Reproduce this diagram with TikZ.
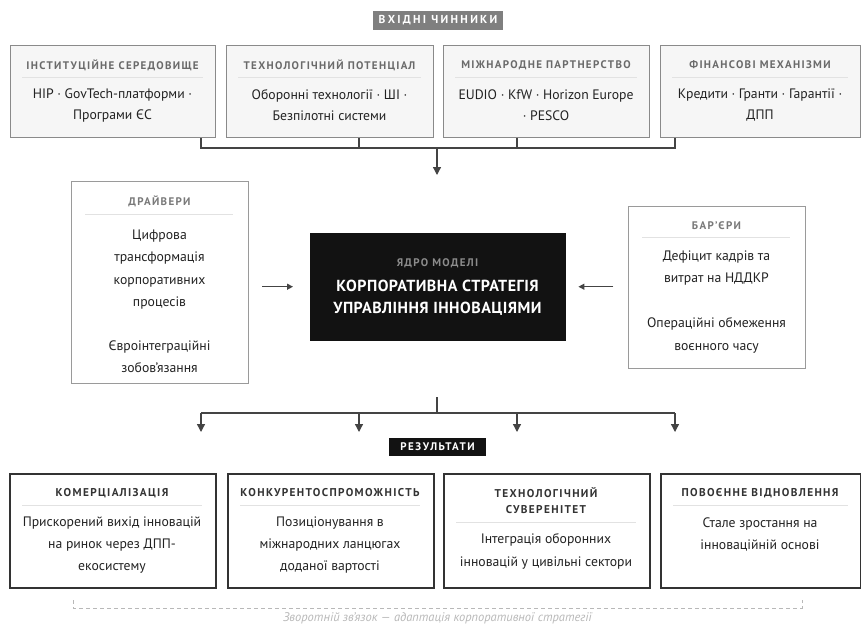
\documentclass[tikz,border=0pt]{standalone}
\usepackage{fontspec}
\setmainfont{PT Sans}
\newfontfamily\capsfont[LetterSpace=12]{PT Sans}
\newfontfamily\corefont[LetterSpace=3]{PT Sans}
\newfontfamily\hdrfont[LetterSpace=20]{PT Sans}
\newfontfamily\resfont[LetterSpace=14]{PT Sans}
\usetikzlibrary{arrows.meta}
\definecolor{topfill}{HTML}{F6F6F6}
\definecolor{topdraw}{HTML}{8A8A8A}
\definecolor{hdrgray}{HTML}{7F7F7F}
\definecolor{sidedraw}{HTML}{9A9A9A}
\definecolor{resdraw}{HTML}{333333}
\definecolor{coreblack}{HTML}{121212}
\definecolor{ttlgray}{HTML}{6A6A6A}
\definecolor{coregray}{HTML}{8C8C8C}
\definecolor{sepgray}{HTML}{E2E2E2}
\definecolor{conngray}{HTML}{444444}
\definecolor{bodytxt}{HTML}{222222}
\definecolor{fbgray}{HTML}{B8B8B8}
\begin{document}
\begin{tikzpicture}[x=1pt,y=-1pt,
  topbox/.style={draw=topdraw,fill=topfill,line width=1pt,anchor=north west,inner sep=0pt},
  sidebox/.style={draw=sidedraw,fill=white,line width=1pt,anchor=north west,inner sep=0pt},
  resbox/.style={draw=resdraw,fill=white,line width=1.6pt,anchor=north west,inner sep=0pt},
  corebox/.style={fill=coreblack,draw=coreblack,anchor=north west,inner sep=0pt},
  ttl/.style={font=\capsfont\bfseries\fontsize{11}{13}\selectfont,text=ttlgray,inner sep=0pt},
  resttl/.style={font=\capsfont\bfseries\fontsize{11.3}{16}\selectfont,text=resdraw,inner sep=0pt,align=center},
  body/.style={font=\fontsize{13.7}{21}\selectfont,text=bodytxt,align=center,inner sep=0pt},
  sep/.style={draw=sepgray,line width=1pt},
  conn/.style={draw=conngray,line width=1.3pt},
  arr/.style={conn,-{Triangle[length=8pt,width=8pt]}},
  sarr/.style={conn,-{Triangle[length=6pt,width=6pt]}},
  tag/.style={text=white,inner sep=0pt}
]
\useasboundingbox (0,0) rectangle (861,625);

% header
\node[tag,font=\hdrfont\bfseries\fontsize{11.5}{13}\selectfont,fill=hdrgray,minimum width=130,minimum height=19] (hdr) at (438,20.5) {ВХІДНІ ЧИННИКИ};

% top boxes
\node[topbox,minimum width=205,minimum height=92] (t1) at (10,45) {};
\node[topbox,minimum width=207,minimum height=92] (t2) at (226,45) {};
\node[topbox,minimum width=206,minimum height=92] (t3) at (443,45) {};
\node[topbox,minimum width=200,minimum height=92] (t4) at (660,45) {};
\node[ttl] (t1h) at (112.5,65) {ІНСТИТУЦІЙНЕ СЕРЕДОВИЩЕ};
\node[ttl] (t2h) at (329.5,65) {ТЕХНОЛОГІЧНИЙ ПОТЕНЦІАЛ};
\node[ttl] (t3h) at (546,65) {МІЖНАРОДНЕ ПАРТНЕРСТВО};
\node[ttl] (t4h) at (760,65) {ФІНАНСОВІ МЕХАНІЗМИ};
\draw[sep] (22,77) -- (203,77);
\draw[sep] (238,77) -- (421,77);
\draw[sep] (455,77) -- (637,77);
\draw[sep] (672,77) -- (848,77);
\node[body] (t1b) at (112.5,105.5) {HIP · GovTech-платформи ·\\Програми ЄС};
\node[body] (t2b) at (329.5,105.5) {Оборонні технології · ШІ ·\\Безпілотні системи};
\node[body] (t3b) at (546,105.5) {EUDIO · KfW · Horizon Europe\\· PESCO};
\node[body] (t4b) at (760,105.5) {Кредити · Гранти · Гарантії ·\\ДПП};

% input bus
\coordinate (busL) at (201,148);
\coordinate (busR) at (675,148);
\coordinate (busM) at (437,148);
\coordinate (coreIn) at (437,175);
\draw[conn] (t1.south -| busL) -- (busL) -- (busR) -- (t4.south -| busR);
\draw[conn] (t2.south -| 359,0) -- (359,148);
\draw[conn] (t3.south -| 517,0) -- (517,148);
\draw[arr] (busM) -- (coreIn);

% drivers
\node[sidebox,minimum width=177,minimum height=202] (drv) at (71,181) {};
\node[ttl,text=ttlgray!90] (drvh) at (159.5,201) {ДРАЙВЕРИ};
\draw[sep] (85,214) -- (233,214);
\node[body,font=\fontsize{13.7}{22.2}\selectfont] (drvb) at (159.5,301.5) {Цифрова\\трансформація\\корпоративних\\процесів\\[22.2pt]Євроінтеграційні\\зобов’язання};

% core
\node[corebox,minimum width=255,minimum height=107] (core) at (310,233) {};
\node[ttl,text=coregray] (coreh) at (437.5,263) {ЯДРО МОДЕЛІ};
\node[body,text=white,font=\corefont\bfseries\fontsize{16}{22}\selectfont] (coreb) at (437.5,298) {КОРПОРАТИВНА СТРАТЕГІЯ\\УПРАВЛІННЯ ІННОВАЦІЯМИ};

% barriers
\node[sidebox,minimum width=177,minimum height=162] (bar) at (628,206) {};
\node[ttl,text=ttlgray!90] (barh) at (716.5,226) {БАР’ЄРИ};
\draw[sep] (642,237) -- (790,237);
\node[body,font=\fontsize{13.7}{22.5}\selectfont] (barb) at (716.5,302) {Дефіцит кадрів та\\витрат на НДДКР\\[22.5pt]Операційні обмеження\\воєнного часу};

% side arrows
\draw[sarr] ([xshift=-48pt]core.west) -- ([xshift=-17pt]core.west);
\draw[sarr] ([xshift=48pt]core.east) -- ([xshift=13pt]core.east);

% output bus
\coordinate (obTop) at (437,397);
\coordinate (obM) at (437,413);
\coordinate (obL) at (201,413);
\coordinate (obR) at (675,413);
\draw[conn] (obTop) -- (obM);
\draw[conn] (obL) -- (obR);
\foreach \xx in {201,359,517,675} \draw[arr] (\xx,413) -- (\xx,432);

% results tag
\node[tag,font=\resfont\bfseries\fontsize{11}{13}\selectfont,fill=coreblack,minimum width=97,minimum height=18] (res) at (437.5,447) {РЕЗУЛЬТАТИ};

% result boxes
\node[resbox,minimum width=206,minimum height=114] (r1) at (9,473) {};
\node[resbox,minimum width=206,minimum height=114] (r2) at (227,473) {};
\node[resbox,minimum width=206,minimum height=114] (r3) at (443,473) {};
\node[resbox,minimum width=200,minimum height=114] (r4) at (660,473) {};
\node[resttl] (r1h) at (112,493) {КОМЕРЦІАЛІЗАЦІЯ};
\node[resttl] (r2h) at (330,493) {КОНКУРЕНТОСПРОМОЖНІСТЬ};
\node[resttl] (r3h) at (546,501) {ТЕХНОЛОГІЧНИЙ\\СУВЕРЕНІТЕТ};
\node[resttl] (r4h) at (760,493) {ПОВОЄННЕ ВІДНОВЛЕННЯ};
\draw[sep] (22,505) -- (202,505);
\draw[sep] (240,505) -- (420,505);
\draw[sep] (456,522) -- (636,522);
\draw[sep] (673,505) -- (848,505);
\node[body,font=\fontsize{13.7}{22}\selectfont] (r1b) at (112,545) {Прискорений вихід інновацій\\на ринок через ДПП-\\екосистему};
\node[body,font=\fontsize{13.7}{22}\selectfont] (r2b) at (330,545) {Позиціонування в\\міжнародних ланцюгах\\доданої вартості};
\node[body,font=\fontsize{13.7}{22.5}\selectfont] (r3b) at (546,551.5) {Інтеграція оборонних\\інновацій у цивільні сектори};
\node[body,font=\fontsize{13.7}{22}\selectfont] (r4b) at (760,534) {Стале зростання на\\інноваційній основі};

% feedback
\coordinate (fbL) at (73,600);
\coordinate (fbR) at (802,600);
\draw[fbgray,line width=1pt,dash pattern=on 4pt off 3pt] (fbL) -- (73,608) -- (802,608) -- (fbR);
\node[font=\itshape\fontsize{12.5}{14}\selectfont,text=fbgray,inner sep=0pt] (fb) at (437.5,618) {Зворотній зв’язок — адаптація корпоративної стратегії};
\end{tikzpicture}
\end{document}
